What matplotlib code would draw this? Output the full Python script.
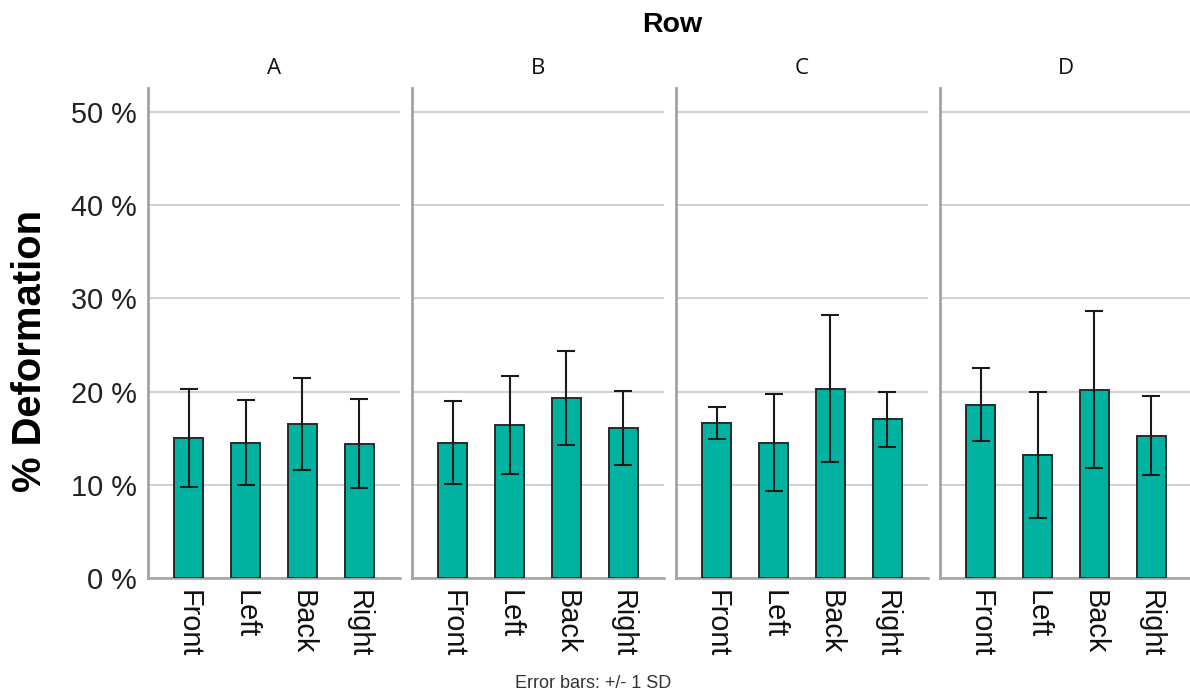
import matplotlib
matplotlib.use("Agg")
import matplotlib.pyplot as plt
from matplotlib.ticker import FuncFormatter

# Mean % deformation per side, one list per row panel
rows = ["A", "B", "C", "D"]
sides = ["Front", "Left", "Back", "Right"]
mean_a = [15.0, 14.5, 16.5, 14.4]
mean_b = [14.5, 16.4, 19.3, 16.1]
mean_c = [16.6, 14.5, 20.3, 17.0]
mean_d = [18.6, 13.2, 20.2, 15.25]
# Standard deviations (error bars are +/- 1 SD)
sd_a = [5.3, 4.55, 4.9, 4.8]
sd_b = [4.45, 5.3, 5.1, 4.0]
sd_c = [1.7, 5.2, 7.9, 2.95]
sd_d = [3.9, 6.75, 8.45, 4.25]
y_ticks = [0, 10, 20, 30, 40, 50]

means = [mean_a, mean_b, mean_c, mean_d]
sds = [sd_a, sd_b, sd_c, sd_d]

W, H = 1190, 696
fig = plt.figure(figsize=(W / 100, H / 100), dpi=100)

bar_color = "#00b3a1"
spine_color = "#a3a3a3"
grid_color = "#d2d2d2"
arial = "Liberation Sans"

left0 = 147.7
pitch = 264.0
ax_w = 252.5
top_px, bottom_px = 88.0, 577.7

for i, row in enumerate(rows):
    x0 = left0 + i * pitch
    ax = fig.add_axes([x0 / W, 1 - bottom_px / H, ax_w / W, (bottom_px - top_px) / H])
    pos = list(range(len(sides)))
    ax.bar(pos, means[i], width=0.51, color=bar_color, edgecolor="#2a2a2a",
           linewidth=1.4, zorder=3)
    ax.errorbar(pos, means[i], yerr=sds[i], fmt="none", ecolor="#1a1a1a",
                elinewidth=1.5, capsize=6.5, capthick=1.5, zorder=4)
    ax.set_xlim(-0.725, 3.725)
    ax.set_ylim(0, 52.6)
    ax.set_yticks(y_ticks)
    ax.yaxis.grid(True, color=grid_color, linewidth=1.5, zorder=0)
    ax.set_axisbelow(True)
    for s in ("top", "right"):
        ax.spines[s].set_visible(False)
    ax.spines["left"].set_color(spine_color)
    ax.spines["left"].set_linewidth(2.0)
    ax.spines["bottom"].set_color(spine_color)
    ax.spines["bottom"].set_linewidth(1.8)
    ax.tick_params(axis="both", length=0)
    ax.set_xticks(pos)
    ax.set_xticklabels(sides, rotation=270, fontsize=20.8, family=arial,
                       va="top", ha="center", color="#111111")
    ax.tick_params(axis="x", pad=9)
    if i == 0:
        ax.yaxis.set_major_formatter(FuncFormatter(lambda v, p: f"{v:.0f} %"))
        for lab in ax.get_yticklabels():
            lab.set_fontsize(20.8)
            lab.set_family(arial)
            lab.set_color("#222222")
        ax.tick_params(axis="y", pad=8)
    else:
        ax.set_yticklabels([])
    ax.text(0.5, 1 + (88 - 69) / (bottom_px - top_px), row, transform=ax.transAxes,
            ha="center", va="center", fontsize=16, family="Open Sans",
            color="#111111")

fig.text(672 / W, 1 - 25 / H, "Row", ha="center", va="center", fontsize=20.5,
         fontweight="bold", family=arial)
fig.text(30 / W, 1 - 351 / H, "% Deformation", ha="center", va="center",
         rotation=90, fontsize=28.8, fontweight="bold", family=arial)
fig.text(593 / W, 1 - 683 / H, "Error bars: +/- 1 SD", ha="center", va="center",
         fontsize=13, family=arial, color="#333333")

fig.savefig("out.png", dpi=100)
